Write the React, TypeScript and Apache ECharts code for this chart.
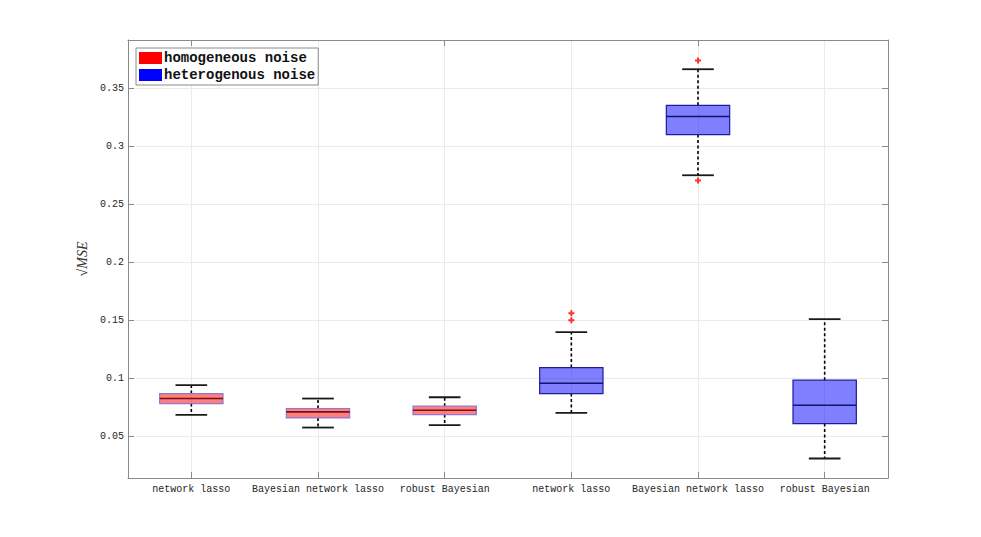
import React, { useEffect, useRef } from "react";
import * as echarts from "echarts";

const categories = [
  "network lasso",
  "Bayesian network lasso",
  "robust Bayesian",
  "network lasso",
  "Bayesian network lasso",
  "robust Bayesian",
];
const seriesNames = ["homogeneous noise", "heterogenous noise"];
// [min, q1, median, q3, max]
const homogeneousBoxes = [
  [0.0684, 0.0782, 0.0825, 0.0868, 0.094],
  [0.0575, 0.0658, 0.071, 0.0739, 0.0825],
  [0.0595, 0.0687, 0.0724, 0.0759, 0.0836],
];
const heterogeneousBoxes = [
  [0.0701, 0.0868, 0.0957, 0.1092, 0.1397],
  [0.275, 0.3101, 0.3256, 0.3353, 0.3664],
  [0.0308, 0.0609, 0.0767, 0.0983, 0.1509],
];
// [category index, value]
const outliers = [
  [3, 0.156],
  [3, 0.15],
  [4, 0.3739],
  [4, 0.2704],
];
const yMin = 0.014;
const yMax = 0.3916;

const PLUS = "path://M2,0H4V2H6V4H4V6H2V4H0V2H2Z";

function makeRenderItem(fill: string, edge: string, median: string) {
  return (params: any, api: any) => {
    const x = api.value(0);
    const pMin = api.coord([x, api.value(1)]);
    const pQ1 = api.coord([x, api.value(2)]);
    const pMed = api.coord([x, api.value(3)]);
    const pQ3 = api.coord([x, api.value(4)]);
    const pMax = api.coord([x, api.value(5)]);
    const unit = api.size([1, 0])[0];
    const bw = unit * 0.25;
    const cw = unit * 0.125;
    const cx = pMed[0];
    const dash = { stroke: "#000", lineWidth: 1.6, lineDash: [3, 2.5], fill: null };
    const cap = { stroke: "#1a1a1a", lineWidth: 1.8, fill: null };
    return {
      type: "group",
      children: [
        { type: "line", shape: { x1: cx, y1: pQ3[1], x2: cx, y2: pMax[1] }, style: dash },
        { type: "line", shape: { x1: cx, y1: pQ1[1], x2: cx, y2: pMin[1] }, style: dash },
        { type: "line", shape: { x1: cx - cw, y1: pMax[1], x2: cx + cw, y2: pMax[1] }, style: cap },
        { type: "line", shape: { x1: cx - cw, y1: pMin[1], x2: cx + cw, y2: pMin[1] }, style: cap },
        {
          type: "rect",
          shape: { x: cx - bw, y: pQ3[1], width: 2 * bw, height: pQ1[1] - pQ3[1] },
          style: { fill, stroke: edge, lineWidth: 1.2 },
        },
        {
          type: "line",
          shape: { x1: cx - bw, y1: pMed[1], x2: cx + bw, y2: pMed[1] },
          style: { stroke: median, lineWidth: 1.6, fill: null },
        },
      ],
    };
  };
}

export default function App() {
  const ref = useRef<HTMLDivElement>(null);
  useEffect(() => {
    if (!ref.current) return;
    const chart = echarts.init(ref.current, null, { renderer: "svg" });
    const axisColor = "#8a8a8a";
    const labelFont = {
      fontFamily: "Liberation Mono",
      fontSize: 10,
      color: "#262626",
    };
    chart.setOption({
      animation: false,
      backgroundColor: "#fff",
      grid: { left: 128, right: 93, top: 40, bottom: 59, show: false },
      legend: {
        data: seriesNames,
        orient: "vertical",
        left: 136,
        top: 48,
        padding: [3, 3, 3, 3],
        itemGap: 3,
        itemWidth: 23,
        itemHeight: 12,
        icon: "rect",
        backgroundColor: "#fff",
        borderColor: "#8a8a8a",
        borderWidth: 1,
        borderRadius: 0,
        textStyle: {
          fontFamily: "Liberation Mono",
          fontSize: 14,
          fontWeight: "bold",
          color: "#111",
          padding: [0, 0, 0, -3],
        },
      },
      xAxis: [
        {
          type: "category",
          data: categories,
          position: "bottom",
          axisLine: { show: true, lineStyle: { color: axisColor } },
          axisTick: { show: true, inside: true, alignWithLabel: true, length: 6, lineStyle: { color: axisColor } },
          axisLabel: { ...labelFont, margin: 6, interval: 0 },
          splitLine: { show: true, alignWithLabel: true, lineStyle: { color: "#ebebeb" } },
        },
        {
          type: "category",
          data: categories,
          position: "top",
          axisLine: { show: true, lineStyle: { color: axisColor } },
          axisTick: { show: true, inside: true, alignWithLabel: true, length: 6, lineStyle: { color: axisColor } },
          axisLabel: { show: false },
          splitLine: { show: false },
        },
      ],
      yAxis: [
        {
          type: "value",
          min: yMin,
          max: yMax,
          splitNumber: 7,
          name: "√MSE",
          nameLocation: "middle",
          nameRotate: 90,
          nameGap: 29,
          nameTextStyle: {
            fontFamily: "Liberation Serif",
            fontStyle: "italic",
            fontSize: 14,
            color: "#333",
          },
          axisLine: { show: true, lineStyle: { color: axisColor } },
          axisTick: { show: true, inside: true, length: 6, lineStyle: { color: axisColor } },
          axisLabel: { ...labelFont, margin: 4, showMinLabel: false, showMaxLabel: false },
          splitLine: { show: true, lineStyle: { color: "#ebebeb" } },
        },
        {
          type: "value",
          min: yMin,
          max: yMax,
          splitNumber: 7,
          position: "right",
          axisLine: { show: true, lineStyle: { color: axisColor } },
          axisTick: { show: true, inside: true, length: 6, lineStyle: { color: axisColor } },
          axisLabel: { show: false },
          splitLine: { show: false },
        },
      ],
      series: [
        {
          name: seriesNames[0],
          type: "custom",
          itemStyle: { color: "#ff0000" },
          encode: { x: 0, y: [1, 2, 3, 4, 5] },
          data: homogeneousBoxes.map((b, i) => [i, ...b]),
          renderItem: makeRenderItem("rgba(255,0,0,0.5)", "#8a7ad8", "#7a1010"),
          z: 3,
        },
        {
          name: seriesNames[1],
          type: "custom",
          itemStyle: { color: "#0000ff" },
          encode: { x: 0, y: [1, 2, 3, 4, 5] },
          data: heterogeneousBoxes.map((b, i) => [i + 3, ...b]),
          renderItem: makeRenderItem("rgba(0,0,255,0.5)", "#1c1c9c", "#14146e"),
          z: 3,
        },
        {
          name: "outliers",
          type: "scatter",
          symbol: PLUS,
          symbolSize: 6,
          itemStyle: { color: "#ff0000" },
          data: outliers,
          z: 4,
        },
      ],
    });
    return () => chart.dispose();
  }, []);
  return (
    <div
      ref={ref}
      style={{ position: "fixed", left: 0, top: 0, width: 981, height: 537 }}
    />
  );
}
